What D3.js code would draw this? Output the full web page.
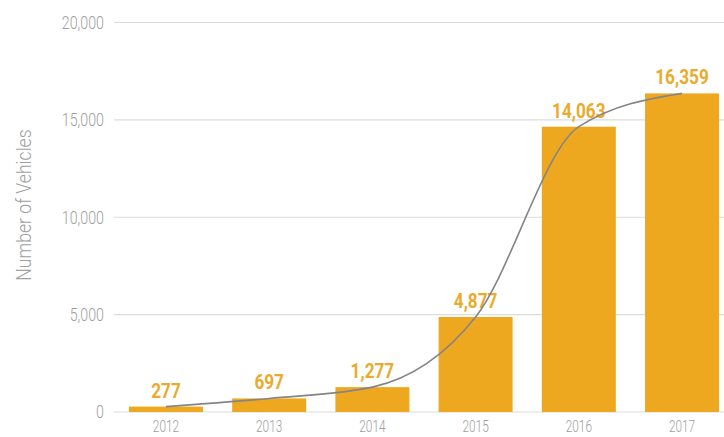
<!DOCTYPE html>
<html><head><meta charset="utf-8">
<script src="https://cdn.jsdelivr.net/npm/d3@7/dist/d3.min.js"></script>
<style>
html,body{margin:0;padding:0;background:#fff;}
svg{display:block;}
text{font-family:Roboto,"DejaVu Sans Condensed",sans-serif;}
</style>
</head><body>
<svg id="chart" width="724" height="437"></svg>
<script>
const years = ["2012","2013","2014","2015","2016","2017"];
const barValues = [277, 697, 1277, 4877, 14650, 16359];
const labelTexts = ["277","697","1,277","4,877","14,063","16,359"];
const yTicks = [0, 5000, 10000, 15000, 20000];
const yTitle = "Number of Vehicles";

const svg = d3.select("#chart");
const W = 724, H = 437;
const x = d3.scaleBand().domain(years).range([114, 734]).paddingInner(0.283).paddingOuter(0.145);
const y = d3.scaleLinear().domain([0, 20000]).range([412, 22.5]);

// gridlines
svg.append("g").selectAll("line").data(yTicks).join("line")
  .attr("x1", 114).attr("x2", W)
  .attr("y1", d => y(d)).attr("y2", d => y(d))
  .attr("stroke", "#dcdcdc").attr("stroke-width", 1.2);

// y tick labels
const fmt = d3.format(",");
svg.append("g").selectAll("text").data(yTicks).join("text")
  .attr("transform", d => `translate(104,${y(d)}) scale(0.79,1)`)
  .attr("dy", "0.36em")
  .attr("text-anchor", "end").attr("font-size", 18).attr("font-weight", 300).attr("fill", "#9e9e9e")
  .text(d => fmt(d));

// y title
svg.append("text")
  .attr("transform", "translate(31,205) rotate(-90) scale(0.84,1)")
  .attr("text-anchor", "middle").attr("font-size", 21).attr("font-weight", 300).attr("fill", "#a0a0a0")
  .text(yTitle);

// bars
svg.append("g").selectAll("rect").data(years).join("rect")
  .attr("x", d => x(d)).attr("width", x.bandwidth())
  .attr("y", (d,i) => y(barValues[i])).attr("height", (d,i) => y(0) - y(barValues[i]))
  .attr("fill", "#eea81f");

// bar labels
svg.append("g").selectAll("text").data(years).join("text")
  .attr("transform", (d,i) => `translate(${x(d) + x.bandwidth()/2},${y(barValues[i]) - 9}) scale(0.86,1)`)
  .attr("text-anchor", "middle").attr("font-size", 20).attr("font-weight", "bold")
  .attr("fill", "#eaab2c")
  .text((d,i) => labelTexts[i]);

// x labels
svg.append("g").selectAll("text").data(years).join("text")
  .attr("transform", d => `translate(${x(d) + x.bandwidth()/2},432) scale(0.74,1)`)
  .attr("text-anchor", "middle").attr("font-size", 16).attr("font-weight", 300).attr("fill", "#9e9e9e")
  .text(d => d);

// trend curve
const line = d3.line()
  .x((d,i) => x(years[i]) + x.bandwidth()/2)
  .y(d => y(d))
  .curve(d3.curveMonotoneX);
svg.append("path").datum(barValues)
  .attr("d", line).attr("fill", "none")
  .attr("stroke", "#858585").attr("stroke-width", 1.6);
</script>
</body></html>
